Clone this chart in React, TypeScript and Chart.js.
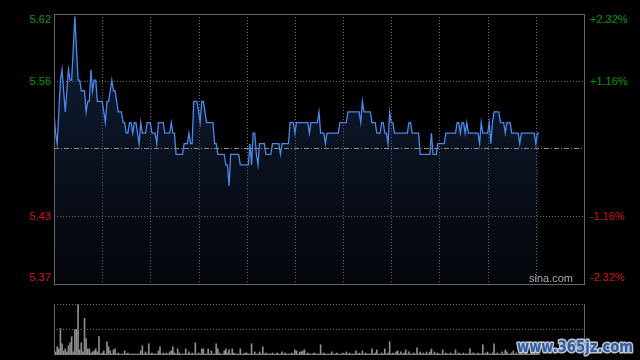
import { useEffect, useRef } from "react";
import { Chart, registerables } from "chart.js";

Chart.register(...registerables);

// ---- data ----
const PREV_CLOSE = 5.495;
const Y_MIN = 5.3675;
const Y_MAX = 5.6225;
const TOTAL_MINUTES = 330; // HK session 09:30-12:00, 13:00-16:00
const TIME_GRID = [30, 60, 90, 120, 150, 180, 210, 240, 270, 300];
const LEVEL_VALUES = [5.6225, 5.55875, 5.43125, 5.3675];
const LEFT_LABELS = ["5.62", "5.56", "5.43", "5.37"];
const RIGHT_LABELS = ["+2.32%", "+1.16%", "-1.16%", "-2.32%"];
const VOL_MAX = 50;

const PRICES = [
  5.53, 5.51, 5.50, 5.53, 5.56, 5.57, 5.55, 5.53, 5.55, 5.57,
  5.56, 5.56, 5.59, 5.62, 5.59, 5.56, 5.56, 5.55, 5.55, 5.55,
  5.53, 5.54, 5.54, 5.57, 5.55, 5.56, 5.56, 5.54, 5.54, 5.54,
  5.54, 5.53, 5.52, 5.54, 5.54, 5.55, 5.56, 5.55, 5.55, 5.54,
  5.53, 5.53, 5.53, 5.52, 5.52, 5.51, 5.51, 5.52, 5.52, 5.51,
  5.52, 5.52, 5.51, 5.50, 5.52, 5.51, 5.51, 5.51, 5.52, 5.52,
  5.52, 5.51, 5.51, 5.51, 5.50, 5.52, 5.52, 5.52, 5.52, 5.51,
  5.51, 5.51, 5.51, 5.52, 5.51, 5.51, 5.49, 5.49, 5.49, 5.49,
  5.49, 5.50, 5.50, 5.50, 5.51, 5.50, 5.50, 5.54, 5.54, 5.54,
  5.53, 5.52, 5.54, 5.54, 5.53, 5.52, 5.52, 5.52, 5.52, 5.52,
  5.50, 5.50, 5.49, 5.49, 5.49, 5.49, 5.49, 5.48, 5.48, 5.46,
  5.49, 5.49, 5.49, 5.49, 5.49, 5.49, 5.48, 5.48, 5.48, 5.48,
  5.48, 5.48, 5.50, 5.48, 5.51, 5.51, 5.49, 5.48, 5.50, 5.50,
  5.50, 5.50, 5.49, 5.49, 5.49, 5.49, 5.50, 5.50, 5.50, 5.50,
  5.50, 5.49, 5.50, 5.50, 5.50, 5.50, 5.50, 5.52, 5.52, 5.52,
  5.51, 5.52, 5.52, 5.52, 5.52, 5.52, 5.52, 5.52, 5.52, 5.51,
  5.52, 5.52, 5.52, 5.52, 5.52, 5.53, 5.51, 5.51, 5.51, 5.50,
  5.51, 5.51, 5.51, 5.51, 5.51, 5.51, 5.51, 5.51, 5.52, 5.52,
  5.52, 5.52, 5.52, 5.53, 5.53, 5.53, 5.53, 5.53, 5.53, 5.53,
  5.53, 5.52, 5.54, 5.53, 5.53, 5.53, 5.53, 5.53, 5.52, 5.52,
  5.52, 5.51, 5.51, 5.51, 5.52, 5.52, 5.51, 5.51, 5.50, 5.53,
  5.52, 5.52, 5.51, 5.51, 5.51, 5.51, 5.51, 5.51, 5.51, 5.51,
  5.51, 5.52, 5.52, 5.51, 5.51, 5.51, 5.51, 5.51, 5.49, 5.49,
  5.49, 5.49, 5.49, 5.49, 5.49, 5.51, 5.49, 5.49, 5.49, 5.50,
  5.50, 5.50, 5.50, 5.50, 5.51, 5.51, 5.51, 5.51, 5.51, 5.51,
  5.51, 5.52, 5.52, 5.51, 5.52, 5.52, 5.51, 5.52, 5.51, 5.51,
  5.51, 5.51, 5.51, 5.51, 5.51, 5.50, 5.52, 5.51, 5.51, 5.51,
  5.51, 5.52, 5.50, 5.52, 5.53, 5.53, 5.53, 5.53, 5.52, 5.52,
  5.52, 5.51, 5.52, 5.52, 5.52, 5.51, 5.51, 5.51, 5.51, 5.51,
  5.50, 5.51, 5.51, 5.51, 5.51, 5.51, 5.51, 5.51, 5.51, 5.51,
  5.50, 5.51, 5.51,
];

const VOLUMES = [
  21, 3, 8, 6, 26, 11, 4, 6, 3, 9,
  12, 18, 3, 25, 25, 50, 5, 12, 3, 36,
  16, 6, 6, 2, 3, 4, 6, 3, 18, 1,
  2, 4, 1, 13, 8, 4, 1, 5, 6, 1,
  2, 1, 1, 1, 4, 1, 2, 1, 1, 1,
  1, 1, 1, 1, 4, 9, 1, 3, 1, 11,
  1, 2, 1, 1, 1, 4, 8, 1, 2, 1,
  2, 1, 3, 4, 8, 2, 1, 6, 2, 1,
  1, 1, 6, 1, 3, 1, 2, 1, 12, 1,
  2, 1, 6, 6, 1, 1, 6, 1, 4, 1,
  1, 11, 6, 2, 1, 1, 4, 6, 2, 5,
  1, 6, 2, 1, 1, 1, 6, 1, 1, 2,
  2, 1, 1, 11, 1, 3, 1, 1, 3, 1,
  8, 1, 2, 1, 1, 1, 2, 1, 1, 2,
  1, 1, 3, 1, 2, 1, 1, 1, 2, 1,
  5, 4, 1, 3, 3, 4, 5, 1, 2, 1,
  1, 1, 2, 1, 1, 1, 10, 1, 2, 1,
  1, 1, 1, 3, 1, 1, 2, 1, 1, 1,
  2, 1, 3, 1, 2, 1, 1, 1, 4, 1,
  2, 1, 4, 1, 2, 1, 1, 1, 6, 1,
  2, 5, 1, 1, 2, 1, 6, 1, 2, 13,
  1, 2, 1, 3, 4, 1, 3, 1, 2, 5,
  1, 3, 1, 1, 2, 1, 7, 1, 3, 1,
  2, 1, 3, 1, 3, 6, 1, 3, 1, 2,
  1, 1, 5, 1, 2, 1, 1, 2, 1, 1,
  5, 1, 2, 1, 1, 2, 1, 1, 1, 6,
  1, 2, 1, 1, 2, 1, 1, 10, 1, 2,
  3, 1, 1, 2, 11, 1, 2, 1, 1, 3,
  1, 5, 3, 1, 1, 2, 4, 1, 2, 1,
  1, 2, 1, 1, 2, 1, 1, 12, 1, 2,
  1, 1, 1,
];

// ---- styles ----
const FONT = '11px "Liberation Sans", Arial, sans-serif';
const UP_COLOR = "#00a000";
const DOWN_COLOR = "#e01010";
const FRAME_COLOR = "#666666";
const GRID_COLOR = "#6e6e6e";

export default function App() {
  const priceRef = useRef<HTMLCanvasElement>(null);
  const volRef = useRef<HTMLCanvasElement>(null);

  useEffect(() => {
    const hline = (ctx: CanvasRenderingContext2D, x1: number, x2: number, y: number) => {
      ctx.beginPath();
      ctx.moveTo(x1, y);
      ctx.lineTo(x2, y);
      ctx.stroke();
    };
    const vline = (ctx: CanvasRenderingContext2D, x: number, y1: number, y2: number) => {
      ctx.beginPath();
      ctx.moveTo(x, y1);
      ctx.lineTo(x, y2);
      ctx.stroke();
    };

    const pricePlugin = {
      id: "priceDecor",
      beforeDatasetsDraw(chart: any) {
        const { ctx, chartArea: a, scales } = chart;
        const xs = scales.x;
        const ys = scales.y;
        ctx.save();
        ctx.lineWidth = 1;
        ctx.strokeStyle = GRID_COLOR;
        ctx.setLineDash([1, 2]);
        for (const t of TIME_GRID) {
          const px = Math.round(xs.getPixelForValue(t)) + 0.5;
          vline(ctx, px, a.top, a.bottom);
        }
        for (let i = 1; i < LEVEL_VALUES.length - 1; i++) {
          const py = Math.floor(ys.getPixelForValue(LEVEL_VALUES[i])) + 0.5;
          hline(ctx, a.left, a.right, py);
        }
        ctx.restore();
      },
      afterDatasetsDraw(chart: any) {
        const { ctx, chartArea: a, scales } = chart;
        const ys = scales.y;
        ctx.save();
        ctx.lineWidth = 1;
        ctx.strokeStyle = "#8c8c8c";
        ctx.setLineDash([5, 2, 1, 2]);
        const py = Math.floor(ys.getPixelForValue(PREV_CLOSE)) + 0.5;
        hline(ctx, a.left, a.right, py);
        ctx.restore();
      },
      afterDraw(chart: any) {
        const { ctx, chartArea: a, scales } = chart;
        const ys = scales.y;
        ctx.save();
        ctx.lineWidth = 1;
        ctx.strokeStyle = FRAME_COLOR;
        ctx.setLineDash([]);
        ctx.strokeRect(a.left + 0.5, a.top + 0.5, a.right - a.left, a.bottom - a.top);
        ctx.font = FONT;
        ctx.textBaseline = "middle";
        LEVEL_VALUES.forEach((v, i) => {
          let py = ys.getPixelForValue(v);
          py = Math.min(Math.max(py, a.top + 6), a.bottom - 6);
          ctx.fillStyle = v > PREV_CLOSE ? UP_COLOR : DOWN_COLOR;
          ctx.textAlign = "right";
          ctx.fillText(LEFT_LABELS[i], a.left - 3, py);
          ctx.textAlign = "left";
          ctx.fillText(RIGHT_LABELS[i], a.right + 6, py);
        });
        ctx.fillStyle = "#a8a8a8";
        ctx.textAlign = "right";
        ctx.fillText("sina.com", a.right - 11, a.bottom - 5);
        ctx.restore();
      },
    };

    const priceChart = new Chart(priceRef.current!, {
      type: "line",
      data: {
        datasets: [
          {
            data: PRICES.map((p, i) => ({ x: i, y: p })),
            borderColor: "#4a88ea",
            borderWidth: 1.3,
            pointRadius: 0,
            tension: 0,
            fill: "start",
            backgroundColor: (c: any) => {
              const area = c.chart.chartArea;
              if (!area) return "rgba(30,55,100,0.3)";
              const g = c.chart.ctx.createLinearGradient(0, area.top + 60, 0, area.bottom);
              g.addColorStop(0, "rgba(36,62,110,0.42)");
              g.addColorStop(1, "rgba(36,62,110,0.08)");
              return g;
            },
          },
        ],
      },
      options: {
        responsive: false,
        animation: false,
        events: [],
        layout: { padding: { left: 54, right: 56, top: 14, bottom: 6 } },
        scales: {
          x: { type: "linear", min: 0, max: TOTAL_MINUTES, display: false },
          y: { type: "linear", min: Y_MIN, max: Y_MAX, display: false },
        },
        plugins: { legend: { display: false }, tooltip: { enabled: false } },
      },
      plugins: [pricePlugin],
    } as any);

    const volPlugin = {
      id: "volDecor",
      afterDraw(chart: any) {
        const { ctx, chartArea: a, scales } = chart;
        const ys = scales.y;
        ctx.save();
        ctx.lineWidth = 1;
        ctx.strokeStyle = GRID_COLOR;
        ctx.setLineDash([1, 2]);
        hline(ctx, a.left, a.right, Math.floor(ys.getPixelForValue(VOL_MAX)) + 0.5);
        hline(ctx, a.left, a.right, Math.floor(ys.getPixelForValue(VOL_MAX / 2)) + 0.5);
        ctx.setLineDash([]);
        ctx.strokeStyle = FRAME_COLOR;
        vline(ctx, a.left + 0.5, a.top, a.bottom);
        vline(ctx, a.right + 0.5, a.top, a.bottom);
        // site watermark
        const text = "www.365jz.com";
        ctx.font = 'bold 15px "DejaVu Sans", sans-serif';
        const w = ctx.measureText(text).width;
        ctx.translate(517, 62);
        ctx.scale(116 / w, 1);
        ctx.lineJoin = "round";
        ctx.lineWidth = 3;
        ctx.strokeStyle = "rgba(225,230,240,0.85)";
        ctx.textAlign = "left";
        ctx.textBaseline = "alphabetic";
        ctx.strokeText(text, 0, 0);
        ctx.fillStyle = "#2e5ca6";
        ctx.fillText(text, 0, 0);
        ctx.restore();
      },
    };

    const volChart = new Chart(volRef.current!, {
      type: "bar",
      data: {
        datasets: [
          {
            data: VOLUMES.map((v, i) => ({ x: i, y: v })),
            backgroundColor: "#8e8e8e",
            barThickness: 1,
            borderWidth: 0,
          },
        ],
      },
      options: {
        responsive: false,
        animation: false,
        events: [],
        layout: { padding: { left: 54, right: 56, top: 14, bottom: 5 } },
        scales: {
          x: { type: "linear", min: 0, max: TOTAL_MINUTES, offset: false, display: false },
          y: { type: "linear", min: 0, max: VOL_MAX, display: false },
        },
        plugins: { legend: { display: false }, tooltip: { enabled: false } },
      },
      plugins: [volPlugin],
    } as any);

    return () => {
      priceChart.destroy();
      volChart.destroy();
    };
  }, []);

  return (
    <div
      style={{
        position: "fixed",
        left: 0,
        top: 0,
        width: 640,
        height: 360,
        background: "#000",
        overflow: "hidden",
      }}
    >
      <canvas
        ref={priceRef}
        width={640}
        height={290}
        style={{ position: "absolute", left: 0, top: 0, width: 640, height: 290 }}
      />
      <canvas
        ref={volRef}
        width={640}
        height={70}
        style={{ position: "absolute", left: 0, top: 290, width: 640, height: 70 }}
      />
    </div>
  );
}
